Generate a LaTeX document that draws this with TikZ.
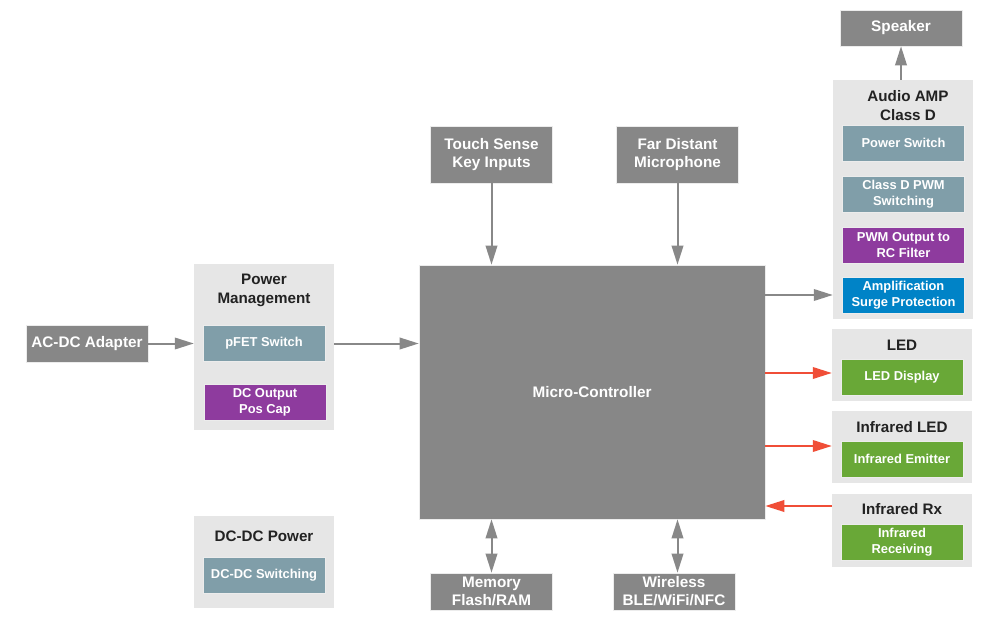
\documentclass[tikz,border=0pt]{standalone}
\usepackage{fontspec}
\setmainfont{Liberation Sans}
\usetikzlibrary{arrows.meta}
\definecolor{boxgray}{HTML}{878787}
\definecolor{grpbg}{HTML}{E6E6E6}
\definecolor{teal}{HTML}{809EA9}
\definecolor{purp}{HTML}{8E3B9E}
\definecolor{blu}{HTML}{0083C7}
\definecolor{grn}{HTML}{69A837}
\definecolor{redarr}{HTML}{F04E37}
\definecolor{arrgray}{HTML}{888888}
\definecolor{txt}{HTML}{222222}
\tikzset{
  box/.style={inner sep=0pt, align=center, text=white, font=\fontsize{15.3}{18}\selectfont\bfseries, draw=white!85!gray, line width=0.6pt},
  gbox/.style={box, fill=boxgray},
  sub/.style={box, font=\fontsize{12.9}{16}\selectfont\bfseries, minimum width=122pt, minimum height=36pt},
  tbox/.style={sub, fill=teal},
  pbox/.style={sub, fill=purp},
  bbox/.style={sub, fill=blu},
  lbox/.style={sub, fill=grn},
  grp/.style={fill=grpbg, draw=none, inner sep=0pt},
  ttl/.style={inner sep=0pt, align=center, text=txt, font=\fontsize{15.2}{18.5}\selectfont\bfseries},
  tip/.tip={Triangle[length=19pt,width=11.5pt]},
  garr/.style={draw=arrgray, line width=2pt, -tip},
  gdarr/.style={draw=arrgray, line width=2pt, tip-tip},
  rarr/.style={draw=redarr, line width=2pt, -tip},
}
\begin{document}
\begin{tikzpicture}[x=1pt,y=-1pt]
\useasboundingbox (0,0) rectangle (1000,620);
\fill[white] (0,0) rectangle (1000,620);

% Speaker
\node[gbox, minimum width=122pt, minimum height=36pt] (spk) at (901,28) {Speaker};

% Audio AMP group
\node[grp, minimum width=140pt, minimum height=239pt] (amp) at (903,199.5) {};
\node[ttl] (ampt) at (908,105.5) {Audio AMP\\Class D};
\node[tbox] (psw) at (903.5,143) {Power Switch};
\node[tbox] (cdp) at (903.5,194) {Class D PWM\\Switching};
\node[pbox] (pwm) at (903.5,245) {PWM Output to\\RC Filter};
\node[bbox] (ampl) at (903.5,295) {Amplification\\Surge Protection};

% LED group
\node[grp, minimum width=140pt, minimum height=72pt] (led) at (902,365) {};
\node[ttl] (ledt) at (902,345) {LED};
\node[lbox] (ledd) at (902,377) {LED Display};

% Infrared LED group
\node[grp, minimum width=140pt, minimum height=72pt] (irl) at (902,447) {};
\node[ttl] (irlt) at (902,427) {Infrared LED};
\node[lbox] (ire) at (902,459) {Infrared Emitter};

% Infrared Rx group
\node[grp, minimum width=140pt, minimum height=73pt] (irx) at (902,530.5) {};
\node[ttl] (irxt) at (902,509) {Infrared Rx};
\node[lbox] (irr) at (902,542) {Infrared\\Receiving};

% Micro-controller
\node[gbox, minimum width=346pt, minimum height=254pt] (mcu) at (592,392) {Micro-Controller};

% Top inputs
\node[gbox, minimum width=122pt, minimum height=57pt] (touch) at (491.5,154.5) {Touch Sense\\Key Inputs};
\node[gbox, minimum width=122pt, minimum height=57pt] (mic) at (677.5,154.5) {Far Distant\\Microphone};

% Bottom
\node[gbox, minimum width=122pt, minimum height=37pt] (mem) at (491.5,591.5) {Memory\\Flash/RAM};
\node[gbox, minimum width=122pt, minimum height=37pt] (wl) at (674,591.5) {Wireless\\BLE/WiFi/NFC};

% Power management
\node[grp, minimum width=140pt, minimum height=166pt] (pm) at (264,347) {};
\node[ttl] (pmt) at (264,290.5) {Power\\Management};
\node[tbox] (pfet) at (264,343) {pFET Switch};
\node[pbox] (dco) at (265,402.5) {DC Output\\Pos Cap};

% AC-DC adapter
\node[gbox, minimum width=122pt, minimum height=37pt] (acdc) at (87,343.5) {AC-DC Adapter};

% DC-DC power
\node[grp, minimum width=140pt, minimum height=92pt] (dcdc) at (264,562) {};
\node[ttl] (dcdct) at (264,536) {DC-DC Power};
\node[tbox] (dcsw) at (264,575.5) {DC-DC Switching};

% Connectors
\draw[garr] (amp.north -| spk) -- (spk.south);
\draw[garr] (touch.south) -- (touch.south |- mcu.north);
\draw[garr] (mic.south) -- (mic.south |- mcu.north);
\draw[gdarr] (mem.north |- mcu.south) -- (mem.north);
\draw[gdarr] (mic.south |- mcu.south) -- (mic.south |- wl.north);
\draw[garr] (acdc.east) -- (pm.west |- acdc.east);
\draw[garr] (pm.east |- acdc.east) -- (mcu.west |- acdc.east);
\draw[garr] (mcu.east |- ampl.center) -- (amp.west |- ampl.center);
\draw[rarr] (mcu.east |- 0,373) -- (led.west |- 0,373);
\draw[rarr] (mcu.east |- 0,446) -- (irl.west |- 0,446);
\draw[rarr] (irx.west |- 0,506) -- (mcu.east |- 0,506);
\end{tikzpicture}
\end{document}
